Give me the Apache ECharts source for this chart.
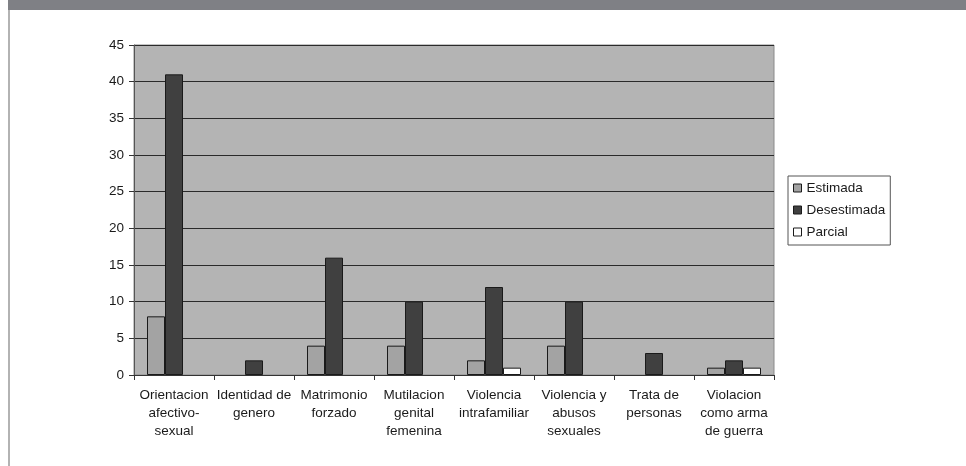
<!DOCTYPE html>
<html>
<head>
<meta charset="utf-8">
<script src="https://cdn.jsdelivr.net/npm/echarts@6/dist/echarts.min.js"></script>
<style>
html,body{margin:0;padding:0;background:#fff;}
#topbar{position:absolute;left:8px;top:0;width:958px;height:10px;background:#7f8085;}
#leftline{position:absolute;left:8px;top:10px;width:2px;height:456px;background:#b3b3b3;}
#chart{position:absolute;left:0;top:0;width:966px;height:466px;}
</style>
</head>
<body>
<div id="topbar"></div>
<div id="leftline"></div>
<div id="chart"></div>
<script>
const categories = [
  "Orientacion\nafectivo-\nsexual",
  "Identidad de\ngenero",
  "Matrimonio\nforzado",
  "Mutilacion\ngenital\nfemenina",
  "Violencia\nintrafamiliar",
  "Violencia y\nabusos\nsexuales",
  "Trata de\npersonas",
  "Violacion\ncomo arma\nde guerra"
];
const estimada    = [8, 0, 4, 4, 2, 4, 0, 1];
const desestimada = [41, 2, 16, 10, 12, 10, 3, 2];
const parcial     = [0, 0, 0, 0, 1, 0, 0, 1];
const yTicks = { min: 0, max: 45, interval: 5 };

const font = 'Liberation Sans, Arial, sans-serif';
const chart = echarts.init(document.getElementById('chart'), null, {renderer: 'canvas'});
function bar(name, data, color) {
  return {
    name: name, type: 'bar',
    data: data.map(v => v === 0 ? { value: 0, itemStyle: { borderWidth: 0, opacity: 0 } } : v),
    barWidth: 18, barGap: '0%', barCategoryGap: '32.5%',
    itemStyle: { color: color, borderColor: '#1a1a1a', borderWidth: 1 },
    emphasis: { disabled: true },
    animation: false
  };
}
chart.setOption({
  animation: false,
  grid: {
    left: 134, right: 192, top: 45, bottom: 91,
    show: true, backgroundColor: '#b4b4b4', borderColor: '#8a8a8a', borderWidth: 1,
    containLabel: false
  },
  legend: {
    orient: 'vertical', left: 788, top: 176,
    padding: [5, 5, 6, 5], itemGap: 8,
    itemWidth: 8, itemHeight: 8, icon: 'rect',
    borderColor: '#555', borderWidth: 1, backgroundColor: '#fff',
    textStyle: { fontFamily: font, fontSize: 13.5, color: '#1a1a1a', lineHeight: 14 },
    data: [
      { name: 'Estimada', itemStyle: { opacity: 1, borderWidth: 1 } },
      { name: 'Desestimada', itemStyle: { opacity: 1, borderWidth: 1 } },
      { name: 'Parcial', itemStyle: { opacity: 1, borderWidth: 1 } }
    ]
  },
  xAxis: {
    type: 'category', data: categories,
    axisLine: { lineStyle: { color: '#333', width: 1 } },
    axisTick: { show: true, length: 5, inside: false, lineStyle: { color: '#333' } },
    axisLabel: { interval: 0, margin: 11, fontFamily: font, fontSize: 13.5, color: '#1a1a1a', lineHeight: 18 },
    splitLine: { show: false }
  },
  yAxis: {
    type: 'value', min: yTicks.min, max: yTicks.max, interval: yTicks.interval,
    axisLine: { show: true, lineStyle: { color: '#555', width: 1 } },
    axisTick: { show: true, length: 5, lineStyle: { color: '#333' } },
    axisLabel: { margin: 10, fontFamily: font, fontSize: 13.5, color: '#1a1a1a' },
    splitLine: { show: true, lineStyle: { color: '#2a2a2a', width: 1 } }
  },
  series: [
    bar('Estimada', estimada, '#a3a3a3'),
    bar('Desestimada', desestimada, '#404040'),
    bar('Parcial', parcial, '#ffffff')
  ]
});
</script>
</body>
</html>
